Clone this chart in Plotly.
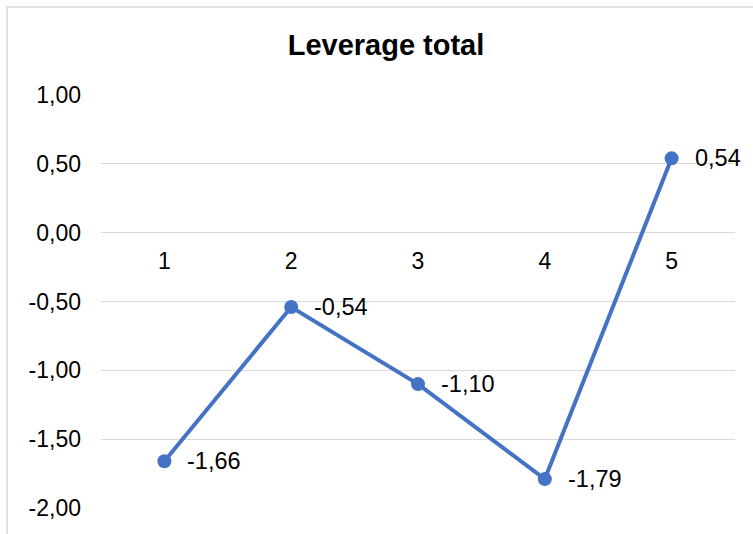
import plotly.graph_objects as go

categories = [1, 2, 3, 4, 5]
values = [-1.66, -0.54, -1.10, -1.79, 0.54]
y_ticks = [1.0, 0.5, 0.0, -0.5, -1.0, -1.5, -2.0]
title_text = "Leverage total"


def fmt(v):
    return f"{v:.2f}".replace(".", ",")


W, H = 753, 534
L, R, T, B = 101, 18, 95, 26
pw, ph = W - L - R, H - T - B
FONT = "Liberation Sans, Arial"

fig = go.Figure(go.Scatter(
    x=categories, y=values, mode="lines+markers",
    line=dict(color="#4472C4", width=4),
    marker=dict(color="#4472C4", size=14),
    cliponaxis=False, showlegend=False, hoverinfo="skip",
))

for c, v in zip(categories, values):
    fig.add_annotation(x=c, y=v, xref="x", yref="y", text=fmt(v), showarrow=False,
                       xanchor="left", yanchor="middle", xshift=21, yshift=0,
                       font=dict(family=FONT, size=23.5, color="#000000"))

ymin, ymax = -2.0, 1.0
zero_pos = (0 - ymin) / (ymax - ymin)

fig.update_layout(
    width=W, height=H, margin=dict(l=L, r=R, t=T, b=B),
    paper_bgcolor="white", plot_bgcolor="white",
    font=dict(family=FONT, size=23, color="#000000"),
    title=dict(text="<b>" + title_text + "</b>", x=386 / W, xref="container",
               y=1 - 45 / H, yref="container", xanchor="center", yanchor="middle",
               font=dict(family=FONT, size=29, color="#000000")),
    xaxis=dict(range=[0.5, 5.5], tickvals=categories, ticktext=[str(c) for c in categories],
               showgrid=False, zeroline=False, showline=False, ticks="",
               anchor="free", position=zero_pos, ticklabelstandoff=12,
               tickfont=dict(family=FONT, size=23)),
    yaxis=dict(range=[ymin, ymax], tickvals=y_ticks, ticktext=[fmt(t) for t in y_ticks],
               showgrid=True, gridcolor="#d9d9d9", gridwidth=1,
               zeroline=False, showline=False, ticks="", ticklabelstandoff=19,
               tickfont=dict(family=FONT, size=23)),
)

# chart border (cropped at right and bottom)
fig.add_shape(type="rect", xref="paper", yref="paper",
              x0=(7 - L) / pw, x1=(W + 50 - L) / pw,
              y0=-(B + 50) / ph, y1=1 + (T - 7) / ph,
              line=dict(color="#d9d9d9", width=1.5), fillcolor="rgba(0,0,0,0)", layer="below")

fig.write_html("out.html")
